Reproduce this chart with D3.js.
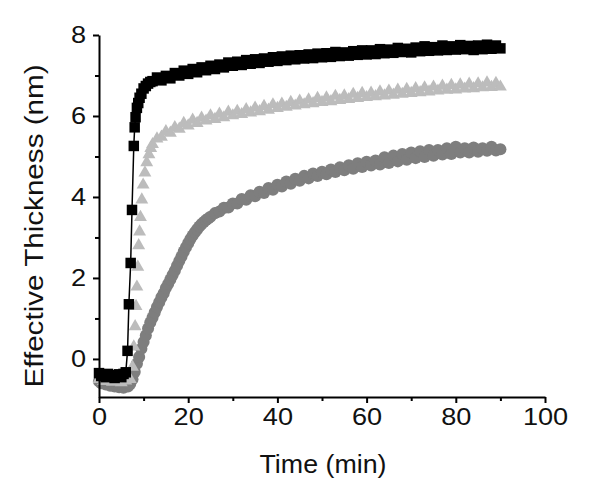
<!DOCTYPE html>
<html>
<head>
<meta charset="utf-8">
<script src="https://cdn.jsdelivr.net/npm/d3@7"></script>
<style>
body { margin: 0; background: #fff; }
text { font-family: "Liberation Sans", Arial, sans-serif; }
</style>
</head>
<body>
<div class="container"></div>
<script>
// [time (min), thickness (nm)]
const squares = [
  [0,-0.35],[0.5,-0.42],[1,-0.38],[1.5,-0.45],[2,-0.37],[2.5,-0.44],[3,-0.4],[3.5,-0.47],[4,-0.41],[4.5,-0.38],
  [5,-0.45],[5.5,-0.37],[6,-0.33],[6.4,0.2],[6.7,1.35],[7.1,2.37],[7.4,3.68],[7.8,5.26],[8,5.72],[8.2,5.97],
  [8.5,6.2],[8.8,6.32],[9.1,6.45],[9.5,6.55],[10,6.68],[10.5,6.74],[11,6.8],[11.5,6.84],
  [12,6.86],[13,6.95],[14,6.88],[15,6.99],[16,6.93],[17,7.06],[18,7.0],[19,7.12],[20,7.04],[21,7.16],
  [22,7.08],[23,7.2],[24,7.13],[25,7.24],[26,7.16],[27,7.27],[28,7.2],[29,7.32],[30,7.24],[31,7.34],
  [32,7.26],[33,7.38],[34,7.29],[35,7.4],[36,7.31],[37,7.42],[38,7.34],[39,7.45],[40,7.36],[41,7.47],
  [42,7.38],[43,7.49],[44,7.4],[45,7.5],[46,7.42],[47,7.52],[48,7.43],[49,7.54],[50,7.45],[51,7.55],
  [52,7.46],[53,7.58],[54,7.48],[55,7.57],[56,7.49],[57,7.6],[58,7.51],[59,7.62],[60,7.52],[61,7.62],
  [62,7.53],[63,7.65],[64,7.55],[65,7.64],[66,7.56],[67,7.68],[68,7.58],[69,7.66],[70,7.57],[71,7.69],
  [72,7.6],[73,7.72],[74,7.61],[75,7.7],[76,7.62],[77,7.74],[78,7.63],[79,7.72],[80,7.64],[81,7.75],
  [82,7.65],[83,7.73],[84,7.63],[85,7.74],[86,7.65],[87,7.76],[88,7.66],[89,7.74],[90,7.67]
]

const triangles = [
  [0,-0.5],[1,-0.55],[2,-0.52],[3,-0.57],[4,-0.53],[5,-0.58],[6,-0.54],[7,-0.5],[7.5,-0.2],[7.8,0.3],
  [8.1,0.8],[8.3,1.3],[8.5,1.78],[8.7,2.27],[8.9,2.8],[9.1,3.14],[9.3,3.5],[9.6,3.93],[9.9,4.3],[10.3,4.6],
  [10.7,4.85],[11.2,5.05],[11.6,5.2],
  [12,5.3],[13,5.44],[14,5.48],[15,5.62],[16,5.58],[17,5.72],[18,5.68],[19,5.82],[20,5.76],[21,5.9],
  [22,5.82],[23,5.95],[24,5.88],[25,6.01],[26,5.92],[27,6.05],[28,5.96],[29,6.1],[30,6.01],[31,6.12],
  [32,6.04],[33,6.16],[34,6.08],[35,6.2],[36,6.11],[37,6.24],[38,6.15],[39,6.28],[40,6.19],[41,6.3],
  [42,6.22],[43,6.34],[44,6.25],[45,6.37],[46,6.28],[47,6.4],[48,6.31],[49,6.44],[50,6.34],[51,6.45],
  [52,6.36],[53,6.49],[54,6.39],[55,6.5],[56,6.41],[57,6.54],[58,6.44],[59,6.56],[60,6.46],[61,6.57],
  [62,6.48],[63,6.6],[64,6.5],[65,6.62],[66,6.52],[67,6.64],[68,6.54],[69,6.66],[70,6.56],[71,6.68],
  [72,6.58],[73,6.7],[74,6.6],[75,6.72],[76,6.62],[77,6.74],[78,6.64],[79,6.76],[80,6.65],[81,6.77],
  [82,6.67],[83,6.79],[84,6.68],[85,6.8],[86,6.7],[87,6.82],[88,6.71],[89,6.81],[90,6.72]
]

const circles = [
  [0,-0.55],[0.5,-0.6],[1,-0.58],[1.5,-0.63],[2,-0.6],[2.5,-0.66],[3,-0.62],[3.5,-0.68],[4,-0.64],[4.5,-0.7],
  [5,-0.66],[5.5,-0.71],[6,-0.67],[6.5,-0.68],[7,-0.62],[7.5,-0.5],[8,-0.32],[8.5,-0.12],[9,0.05],[9.5,0.25],
  [10,0.42],[10.5,0.58],[11,0.75],[11.5,0.9],[12,1.02],[12.5,1.15],[13,1.28],[13.5,1.4],[14,1.52],[14.5,1.62],
  [15,1.75],[15.5,1.85],[16,1.96],[16.5,2.07],[17,2.18],[17.5,2.3],[18,2.42],[18.5,2.53],[19,2.65],[19.5,2.76],
  [20,2.86],[20.5,2.96],[21,3.05],[21.5,3.13],[22,3.2],[22.5,3.27],[23,3.33],[23.5,3.38],[24,3.43],[24.5,3.47],
  [25,3.51],[26,3.6],[27,3.64],[28,3.73],[29,3.74],[30,3.84],[31,3.84],[32,3.95],[33,3.93],[34,4.04],
  [35,4.02],[36,4.13],[37,4.1],[38,4.22],[39,4.18],[40,4.3],[41,4.26],[42,4.38],[43,4.33],[44,4.45],
  [45,4.4],[46,4.52],[47,4.46],[48,4.58],[49,4.52],[50,4.62],[51,4.56],[52,4.68],[53,4.62],[54,4.73],
  [55,4.66],[56,4.78],[57,4.7],[58,4.83],[59,4.74],[60,4.87],[61,4.78],[62,4.9],[63,4.8],[64,4.98],
  [65,4.84],[66,5.02],[67,4.88],[68,5.06],[69,4.92],[70,5.1],[71,4.96],[72,5.13],[73,4.99],[74,5.16],
  [75,5.02],[76,5.16],[77,5.05],[78,5.2],[79,5.06],[80,5.24],[81,5.1],[82,5.2],[83,5.1],[84,5.22],
  [85,5.12],[86,5.2],[87,5.14],[88,5.24],[89,5.15],[90,5.18]
]

const xTicks = [0, 20, 40, 60, 80, 100]
const xMinorTicks = [10, 30, 50, 70, 90]
const yTicks = [0, 2, 4, 6, 8]
const yMinorTicks = [1, 3, 5, 7]
const xTitle = "Time (min)"
const yTitle = "Effective Thickness (nm)"

const width = 601
const height = 497

const xScale = d3.scaleLinear().domain([0, 100]).range([99, 545])
const yScale = d3.scaleLinear().domain([-0.94, 8]).range([397, 35])

const svg = d3.select(".container").append("svg")
    .attr("width", width)
    .attr("height", height)

// dark gray circles (bottom layer)
svg.append("g")
    .selectAll("path")
    .data(circles)
    .enter()
    .append("path")
    .attr("d", d3.symbol().type(d3.symbolCircle).size(115))
    .attr("transform", d => `translate(${xScale(d[0])},${yScale(d[1])})`)
    .style("fill", "#7e7e7e")

// light gray triangles
svg.append("g")
    .selectAll("path")
    .data(triangles)
    .enter()
    .append("path")
    .attr("d", d3.symbol().type(d3.symbolTriangle).size(72))
    .attr("transform", d => `translate(${xScale(d[0])},${yScale(d[1])})`)
    .style("fill", "#bcbcbc")

// black squares joined by a line
const line = d3.line()
    .x(d => xScale(d[0]))
    .y(d => yScale(d[1]))

svg.append("path")
    .datum(squares)
    .attr("d", line)
    .style("fill", "none")
    .style("stroke", "#000")
    .style("stroke-width", 1.5)

svg.append("g")
    .selectAll("path")
    .data(squares)
    .enter()
    .append("path")
    .attr("d", d3.symbol().type(d3.symbolSquare).size(110))
    .attr("transform", d => `translate(${xScale(d[0])},${yScale(d[1])})`)
    .style("fill", "#000")

// axes
const xAxis = d3.axisBottom(xScale).tickValues(xTicks).tickSize(6).tickSizeOuter(0).tickPadding(6)
const xMinor = d3.axisBottom(xScale).tickValues(xMinorTicks).tickSize(4).tickFormat("")
const yAxis = d3.axisLeft(yScale).tickValues(yTicks).tickSize(6).tickSizeOuter(0).tickPadding(5)
const yMinor = d3.axisLeft(yScale).tickValues(yMinorTicks).tickSize(4).tickFormat("")

svg.append("g")
    .attr("transform", "translate(0,397)")
    .call(xMinor)
    .call(g => g.select(".domain").remove())

svg.append("g")
    .attr("transform", "translate(99,0)")
    .call(yMinor)
    .call(g => g.select(".domain").remove())

svg.append("g")
    .attr("transform", "translate(0,397)")
    .call(xAxis)

svg.append("g")
    .attr("transform", "translate(99,0)")
    .call(yAxis)

svg.selectAll(".domain, .tick line")
    .style("stroke", "#000")
    .style("stroke-width", 2)

svg.selectAll(".tick text")
    .style("font-size", "23px")
    .style("fill", "#111")
    .attr("transform", "scale(1.18,1)")

svg.append("text")
    .attr("x", 323)
    .attr("y", 473)
    .attr("text-anchor", "middle")
    .attr("textLength", 127)
    .attr("lengthAdjust", "spacingAndGlyphs")
    .style("font-size", "25px")
    .style("fill", "#111")
    .text(xTitle)

svg.append("text")
    .attr("transform", "translate(43,226) rotate(-90)")
    .attr("text-anchor", "middle")
    .attr("textLength", 323)
    .attr("lengthAdjust", "spacingAndGlyphs")
    .style("font-size", "25px")
    .style("fill", "#111")
    .text(yTitle)
</script>
</body>
</html>
